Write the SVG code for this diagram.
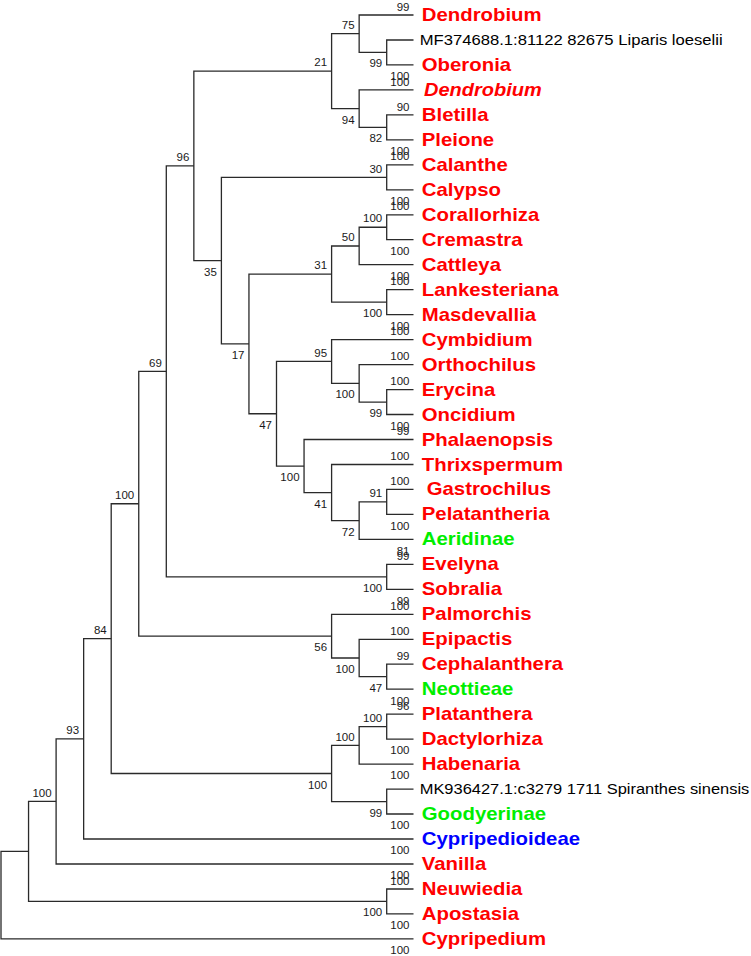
<svg xmlns="http://www.w3.org/2000/svg" width="751" height="956" viewBox="0 0 751 956">
<style>
.br{fill:none;stroke:#2a2a2a;stroke-width:1.3}
.bs{font-family:"Liberation Sans",Arial,sans-serif;font-size:11.5px;fill:#1a1a1a;text-anchor:end}
.lb{font-family:"Liberation Sans",Arial,sans-serif;font-size:17.7px;font-weight:bold}
.red{fill:#ff0000}.grn{fill:#00ee00}.blu{fill:#0000ff}
.blk{font-family:"Liberation Sans",Arial,sans-serif;font-size:15px;fill:#000}
.it{font-style:italic}
</style>
<rect width="751" height="956" fill="#fff"/>
<g id="connectors" class="br">
<path d="M413.5,40H386.7V64.9H413.5"/>
<path d="M413.5,15H359.15V52.45H386.7"/>
<path d="M413.5,114.9H386.7V139.9H413.5"/>
<path d="M413.5,89.9H359.15V127.4H386.7"/>
<path d="M359.15,33.7H331.6V108.65H359.15"/>
<path d="M413.5,164.8H386.7V189.8H413.5"/>
<path d="M413.5,214.8H386.7V239.7H413.5"/>
<path d="M386.7,227.25H359.15V264.7H413.5"/>
<path d="M413.5,289.7H386.7V314.6H413.5"/>
<path d="M359.15,246H331.6V302.15H386.7"/>
<path d="M413.5,389.6H386.7V414.5H413.5"/>
<path d="M413.5,364.6H359.15V402.05H386.7"/>
<path d="M413.5,339.6H331.6V383.3H359.15"/>
<path d="M413.5,489.4H386.7V514.4H413.5"/>
<path d="M386.7,501.9H359.15V539.4H413.5"/>
<path d="M413.5,464.5H331.6V520.65H359.15"/>
<path d="M413.5,439.5H304.05V492.6H331.6"/>
<path d="M331.6,361.45H276.5V466.05H304.05"/>
<path d="M331.6,274.1H248.95V413.75H276.5"/>
<path d="M386.7,177.3H221.4V343.9H248.95"/>
<path d="M331.6,71.2H193.85V260.6H221.4"/>
<path d="M413.5,564.3H386.7V589.3H413.5"/>
<path d="M193.85,165.9H166.3V576.8H386.7"/>
<path d="M413.5,664.2H386.7V689.2H413.5"/>
<path d="M413.5,639.3H359.15V676.7H386.7"/>
<path d="M413.5,614.3H331.6V658H359.15"/>
<path d="M166.3,371.35H138.75V636.15H331.6"/>
<path d="M413.5,714.2H386.7V739.1H413.5"/>
<path d="M386.7,726.65H359.15V764.1H413.5"/>
<path d="M413.5,789.1H386.7V814H413.5"/>
<path d="M359.15,745.4H331.6V801.55H386.7"/>
<path d="M138.75,503.75H111.2V773.5H331.6"/>
<path d="M111.2,638.6H83.65V839H413.5"/>
<path d="M83.65,738.8H56.1V864H413.5"/>
<path d="M413.5,889H386.7V913.9H413.5"/>
<path d="M56.1,801.4H28.55V901.45H386.7"/>
<path d="M28.55,851.4H1V938.9H413.5"/>
</g>
<g id="internal-nodes" class="bs">
<g id="n-liparis-oberonia"><text x="382.2" y="67.45">99</text></g>
<g id="n-75"><text x="354.65" y="28.9">75</text></g>
<g id="n-bletilla-pleione"><text x="382.2" y="142.4">82</text></g>
<g id="n-94"><text x="354.65" y="123.65">94</text></g>
<g id="n-21"><text x="327.1" y="66.4">21</text></g>
<g id="n-30"><text x="382.2" y="172.5">30</text></g>
<g id="n-coral-crem"><text x="382.2" y="222.45">100</text></g>
<g id="n-50"><text x="354.65" y="241.2">50</text></g>
<g id="n-lank-masd"><text x="382.2" y="317.15">100</text></g>
<g id="n-31"><text x="327.1" y="269.3">31</text></g>
<g id="n-ery-onc"><text x="382.2" y="417.05">99</text></g>
<g id="n-ortho"><text x="354.65" y="398.3">100</text></g>
<g id="n-95"><text x="327.1" y="356.65">95</text></g>
<g id="n-91"><text x="382.2" y="497.1">91</text></g>
<g id="n-72"><text x="354.65" y="535.65">72</text></g>
<g id="n-41"><text x="327.1" y="507.6">41</text></g>
<g id="n-phal"><text x="299.55" y="481.05">100</text></g>
<g id="n-47a"><text x="272" y="428.75">47</text></g>
<g id="n-17"><text x="244.45" y="358.9">17</text></g>
<g id="n-35"><text x="216.9" y="275.6">35</text></g>
<g id="n-96"><text x="189.35" y="161.1">96</text></g>
<g id="n-eve-sob"><text x="382.2" y="591.8">100</text></g>
<g id="n-69"><text x="161.8" y="366.55">69</text></g>
<g id="n-47b"><text x="382.2" y="691.7">47</text></g>
<g id="n-epip"><text x="354.65" y="673">100</text></g>
<g id="n-56"><text x="327.1" y="651.15">56</text></g>
<g id="n-l5"><text x="134.25" y="498.95">100</text></g>
<g id="n-plat-dact"><text x="382.2" y="721.85">100</text></g>
<g id="n-haben"><text x="354.65" y="740.6">100</text></g>
<g id="n-spir-good"><text x="382.2" y="816.55">99</text></g>
<g id="n-orchid"><text x="327.1" y="788.5">100</text></g>
<g id="n-84"><text x="106.7" y="633.8">84</text></g>
<g id="n-93"><text x="79.15" y="734">93</text></g>
<g id="n-l2"><text x="51.6" y="796.6">100</text></g>
<g id="n-neu-apo"><text x="382.2" y="916.45">100</text></g>
<g id="n-l1"></g>
<g id="n-root"></g>
</g>
<g id="leaves">
<g id="leaf-dendrobium"><text class="bs" x="409.5" y="10.6">99</text><text class="lb red" transform="translate(421.8 21) scale(1.15 1)">Dendrobium</text></g>
<g id="leaf-liparis"><text class="blk" x="419.7" y="45" textLength="303" lengthAdjust="spacingAndGlyphs">MF374688.1:81122 82675 Liparis loeselii</text></g>
<g id="leaf-oberonia"><text class="bs" x="409.5" y="80.2">100</text><text class="lb red" transform="translate(421.8 70.9) scale(1.15 1)">Oberonia</text></g>
<g id="leaf-dendrobium-2"><text class="bs" x="409.5" y="85.5">100</text><text class="lb red it" transform="translate(424 95.9) scale(1.13 1)">Dendrobium</text></g>
<g id="leaf-bletilla"><text class="bs" x="409.5" y="110.5">90</text><text class="lb red" transform="translate(421.8 120.9) scale(1.15 1)">Bletilla</text></g>
<g id="leaf-pleione"><text class="bs" x="409.5" y="155.2">100</text><text class="lb red" transform="translate(421.8 145.9) scale(1.15 1)">Pleione</text></g>
<g id="leaf-calanthe"><text class="bs" x="409.5" y="160.4">100</text><text class="lb red" transform="translate(421.8 170.8) scale(1.15 1)">Calanthe</text></g>
<g id="leaf-calypso"><text class="bs" x="409.5" y="205.1">100</text><text class="lb red" transform="translate(421.8 195.8) scale(1.15 1)">Calypso</text></g>
<g id="leaf-corallorhiza"><text class="bs" x="409.5" y="210.4">100</text><text class="lb red" transform="translate(421.8 220.8) scale(1.15 1)">Corallorhiza</text></g>
<g id="leaf-cremastra"><text class="bs" x="409.5" y="255">100</text><text class="lb red" transform="translate(421.8 245.7) scale(1.15 1)">Cremastra</text></g>
<g id="leaf-cattleya"><text class="bs" x="409.5" y="280">100</text><text class="lb red" transform="translate(421.8 270.7) scale(1.15 1)">Cattleya</text></g>
<g id="leaf-lankesteriana"><text class="bs" x="409.5" y="285.3">100</text><text class="lb red" transform="translate(421.8 295.7) scale(1.15 1)">Lankesteriana</text></g>
<g id="leaf-masdevallia"><text class="bs" x="409.5" y="329.9">100</text><text class="lb red" transform="translate(421.8 320.6) scale(1.15 1)">Masdevallia</text></g>
<g id="leaf-cymbidium"><text class="bs" x="409.5" y="335.2">100</text><text class="lb red" transform="translate(421.8 345.6) scale(1.15 1)">Cymbidium</text></g>
<g id="leaf-orthochilus"><text class="bs" x="409.5" y="360.2">100</text><text class="lb red" transform="translate(421.8 370.6) scale(1.15 1)">Orthochilus</text></g>
<g id="leaf-erycina"><text class="bs" x="409.5" y="385.2">100</text><text class="lb red" transform="translate(421.8 395.6) scale(1.15 1)">Erycina</text></g>
<g id="leaf-oncidium"><text class="bs" x="409.5" y="429.8">100</text><text class="lb red" transform="translate(421.8 420.5) scale(1.15 1)">Oncidium</text></g>
<g id="leaf-phalaenopsis"><text class="bs" x="409.5" y="435.1">99</text><text class="lb red" transform="translate(421.8 445.5) scale(1.15 1)">Phalaenopsis</text></g>
<g id="leaf-thrixspermum"><text class="bs" x="409.5" y="460.1">100</text><text class="lb red" transform="translate(421.8 470.5) scale(1.15 1)">Thrixspermum</text></g>
<g id="leaf-gastrochilus"><text class="bs" x="409.5" y="485">100</text><text class="lb red" transform="translate(426.7 495.4) scale(1.15 1)">Gastrochilus</text></g>
<g id="leaf-pelatantheria"><text class="bs" x="409.5" y="529.7">100</text><text class="lb red" transform="translate(421.8 520.4) scale(1.15 1)">Pelatantheria</text></g>
<g id="leaf-aeridinae"><text class="bs" x="409.5" y="554.7">81</text><text class="lb grn" transform="translate(421.8 545.4) scale(1.15 1)">Aeridinae</text></g>
<g id="leaf-evelyna"><text class="bs" x="409.5" y="559.9">99</text><text class="lb red" transform="translate(421.8 570.3) scale(1.15 1)">Evelyna</text></g>
<g id="leaf-sobralia"><text class="bs" x="409.5" y="604.6">99</text><text class="lb red" transform="translate(421.8 595.3) scale(1.15 1)">Sobralia</text></g>
<g id="leaf-palmorchis"><text class="bs" x="409.5" y="609.9">100</text><text class="lb red" transform="translate(421.8 620.3) scale(1.15 1)">Palmorchis</text></g>
<g id="leaf-epipactis"><text class="bs" x="409.5" y="634.9">100</text><text class="lb red" transform="translate(421.8 645.3) scale(1.15 1)">Epipactis</text></g>
<g id="leaf-cephalanthera"><text class="bs" x="409.5" y="659.8">99</text><text class="lb red" transform="translate(421.8 670.2) scale(1.15 1)">Cephalanthera</text></g>
<g id="leaf-neottieae"><text class="bs" x="409.5" y="704.5">100</text><text class="lb grn" transform="translate(421.8 695.2) scale(1.15 1)">Neottieae</text></g>
<g id="leaf-platanthera"><text class="bs" x="409.5" y="709.8">96</text><text class="lb red" transform="translate(421.8 720.2) scale(1.15 1)">Platanthera</text></g>
<g id="leaf-dactylorhiza"><text class="bs" x="409.5" y="754.4">100</text><text class="lb red" transform="translate(421.8 745.1) scale(1.15 1)">Dactylorhiza</text></g>
<g id="leaf-habenaria"><text class="bs" x="409.5" y="779.4">100</text><text class="lb red" transform="translate(421.8 770.1) scale(1.15 1)">Habenaria</text></g>
<g id="leaf-spiranthes"><text class="blk" x="419.7" y="794.1" textLength="329.6" lengthAdjust="spacingAndGlyphs">MK936427.1:c3279 1711 Spiranthes sinensis</text></g>
<g id="leaf-goodyerinae"><text class="bs" x="409.5" y="829.3">100</text><text class="lb grn" transform="translate(421.8 820) scale(1.15 1)">Goodyerinae</text></g>
<g id="leaf-cypripedioideae"><text class="bs" x="409.5" y="854.3">100</text><text class="lb blu" transform="translate(421.8 845) scale(1.15 1)">Cypripedioideae</text></g>
<g id="leaf-vanilla"><text class="bs" x="409.5" y="879.3">100</text><text class="lb red" transform="translate(421.8 870) scale(1.15 1)">Vanilla</text></g>
<g id="leaf-neuwiedia"><text class="bs" x="409.5" y="884.6">100</text><text class="lb red" transform="translate(421.8 895) scale(1.15 1)">Neuwiedia</text></g>
<g id="leaf-apostasia"><text class="bs" x="409.5" y="929.2">100</text><text class="lb red" transform="translate(421.8 919.9) scale(1.15 1)">Apostasia</text></g>
<g id="leaf-cypripedium"><text class="bs" x="409.5" y="954.2">100</text><text class="lb red" transform="translate(421.8 944.9) scale(1.15 1)">Cypripedium</text></g>
</g>
</svg>
